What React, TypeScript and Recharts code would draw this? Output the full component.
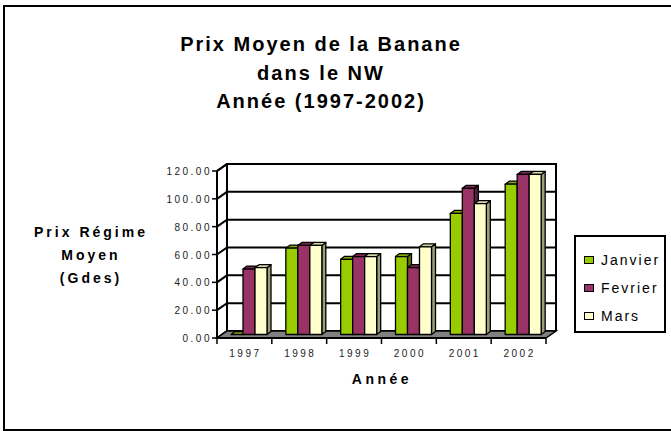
import { BarChart, Bar, XAxis, YAxis, CartesianGrid, ReferenceArea, Legend } from "recharts";

const years = ["1997", "1998", "1999", "2000", "2001", "2002"];
const janvier = [0, 62, 54, 56, 87, 108];
const fevrier = [47, 64, 56, 48, 105, 115];
const mars = [48, 64, 56, 63, 94, 115];
const yTicks = [0, 20, 40, 60, 80, 100, 120];

const series = [
  { key: "janvier", name: "Janvier", fill: "#99CC00", top: "#7FA800", side: "#5C7A00" },
  { key: "fevrier", name: "Fevrier", fill: "#993366", top: "#7A2952", side: "#5A1E3C" },
  { key: "mars", name: "Mars", fill: "#FFFFCC", top: "#D6D6A3", side: "#9E9E7A" },
];

const data = years.map((year, i) => ({
  year,
  janvier: janvier[i],
  fevrier: fevrier[i],
  mars: mars[i],
}));

// depth of the 3D box and of each bar
const DX = 10;
const DY = -7;
const BX = 4;
const BY = -3;

const FONT = "'Liberation Sans', Arial, sans-serif";

function Walls(props: any) {
  const { x, y, width, height } = props;
  const l = x;
  const r = x + width;
  const t = y;
  const b = y + height;
  return (
    <g>
      <polygon
        points={`${l},${b} ${r},${b} ${r + DX},${b + DY} ${l + DX},${b + DY}`}
        fill="#808080"
        stroke="#000"
        strokeWidth={1.5}
      />
      <polyline
        points={`${l + DX},${b + DY} ${l + DX},${t + DY} ${r + DX},${t + DY} ${r + DX},${b + DY}`}
        fill="none"
        stroke="#000"
        strokeWidth={2}
      />
      <line x1={l} y1={t} x2={l + DX} y2={t + DY} stroke="#000" strokeWidth={2} />
    </g>
  );
}

function GridLine(props: any) {
  const { x1, x2, y1 } = props;
  return (
    <path
      key={props.key}
      d={`M${x1},${y1} L${x1 + DX},${y1 + DY} L${x2 + DX},${y1 + DY}`}
      fill="none"
      stroke="#000"
      strokeWidth={2}
    />
  );
}

function Bar3D(props: any) {
  const { x, y, width, height, colors } = props;
  if (x == null || y == null) return null;
  const fx = x + DX / 2;
  const fy = y + DY / 2;
  const w = width;
  const h = Math.max(height, 0);
  return (
    <g stroke="#000" strokeWidth={1.3} strokeLinejoin="round">
      <polygon
        points={`${fx + w},${fy} ${fx + w + BX},${fy + BY} ${fx + w + BX},${fy + h + BY} ${fx + w},${fy + h}`}
        fill={colors.side}
      />
      <polygon
        points={`${fx},${fy} ${fx + BX},${fy + BY} ${fx + w + BX},${fy + BY} ${fx + w},${fy}`}
        fill={colors.top}
      />
      <rect x={fx} y={fy} width={w} height={h} fill={colors.fill} />
    </g>
  );
}

function XTick(props: any) {
  const { x, y, payload, index, visibleTicksCount } = props;
  const half = payload && payload.offset ? payload.offset : 27.4;
  const top = y - 8;
  return (
    <g>
      <line x1={x - half} y1={top} x2={x - half} y2={top + 6} stroke="#000" strokeWidth={1.5} />
      {index === visibleTicksCount - 1 && (
        <line x1={x + half} y1={top} x2={x + half} y2={top + 6} stroke="#000" strokeWidth={1.5} />
      )}
      <text
        x={x + 1}
        y={top + 19}
        textAnchor="middle"
        fontFamily={FONT}
        fontSize={10}
        fill="#222"
        style={{ letterSpacing: "2.5px" }}
      >
        {payload.value}
      </text>
    </g>
  );
}

function YTick(props: any) {
  const { x, y, payload } = props;
  return (
    <text
      x={x + 2}
      y={y + 4}
      textAnchor="end"
      fontFamily={FONT}
      fontSize={10}
      fill="#222"
      style={{ letterSpacing: "2.5px" }}
    >
      {Number(payload.value).toFixed(2)}
    </text>
  );
}

function LegendBox() {
  return (
    <div
      style={{
        width: 88,
        height: 85,
        border: "2px solid #000",
        background: "#fff",
        fontFamily: FONT,
        fontSize: 14,
        letterSpacing: "2px",
        paddingTop: 9,
        boxSizing: "content-box",
      }}
    >
      {series.map((s) => (
        <div key={s.key} style={{ display: "flex", alignItems: "center", height: 28, paddingLeft: 8 }}>
          <span
            style={{
              display: "inline-block",
              width: 8,
              height: 6,
              border: "1.5px solid #000",
              background: s.fill,
              marginRight: 7,
            }}
          />
          <span>{s.name}</span>
        </div>
      ))}
    </div>
  );
}

export default function App() {
  return (
    <div
      style={{
        position: "absolute",
        left: 0,
        top: 0,
        width: 671,
        height: 431,
        overflow: "hidden",
        background: "#fff",
        fontFamily: FONT,
      }}
    >
      <div
        style={{
          position: "absolute",
          left: 3,
          top: 5,
          width: 720,
          height: 422,
          border: "2px solid #000",
        }}
      />
      <div
        style={{
          position: "absolute",
          left: 119,
          top: 30,
          width: 400,
          textAlign: "center",
          fontSize: 20,
          fontWeight: "bold",
          lineHeight: "28.5px",
          letterSpacing: "2px",
          paddingLeft: 2,
        }}
      >
        Prix Moyen de la Banane
        <br />
        dans le NW
        <br />
        Année (1997-2002)
      </div>
      <div
        style={{
          position: "absolute",
          left: 18,
          top: 221,
          width: 140,
          textAlign: "center",
          fontSize: 14,
          fontWeight: "bold",
          lineHeight: "23px",
          letterSpacing: "3px",
          paddingLeft: 3,
        }}
      >
        Prix Régime
        <br />
        Moyen
        <br />
        (Gdes)
      </div>
      <div
        style={{
          position: "absolute",
          left: 309,
          top: 371,
          width: 140,
          textAlign: "center",
          fontSize: 14,
          fontWeight: "bold",
          letterSpacing: "3.5px",
          paddingLeft: 3,
        }}
      >
        Année
      </div>
      <div style={{ position: "absolute", left: 0, top: 0 }}>
        <BarChart
          width={671}
          height={431}
          data={data}
          margin={{ top: 171, right: 125, left: 157, bottom: 63 }}
          barSize={12}
          barGap={0}
        >
          <ReferenceArea y1={0} y2={120} shape={Walls} ifOverflow="visible" />
          <CartesianGrid vertical={false} horizontal={GridLine} />
          <XAxis
            dataKey="year"
            height={30}
            axisLine={{ stroke: "#000", strokeWidth: 2 }}
            tickLine={false}
            tick={XTick}
            interval={0}
          />
          <YAxis
            width={60}
            domain={[0, 120]}
            ticks={yTicks}
            interval={0}
            axisLine={{ stroke: "#000", strokeWidth: 2 }}
            tickLine={{ stroke: "#000", strokeWidth: 1.5 }}
            tickSize={5}
            tick={YTick}
          />
          <Legend
            layout="vertical"
            align="center"
            verticalAlign="middle"
            content={LegendBox}
            wrapperStyle={{ left: 574, top: 235, width: 92 }}
          />
          {series.map((s) => (
            <Bar
              key={s.key}
              dataKey={s.key}
              name={s.name}
              fill={s.fill}
              isAnimationActive={false}
              shape={(p: any) => <Bar3D {...p} colors={s} />}
            />
          ))}
        </BarChart>
      </div>
    </div>
  );
}
